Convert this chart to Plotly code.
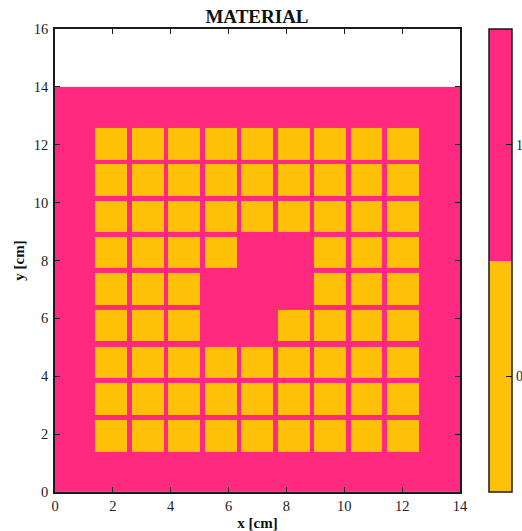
import plotly.graph_objects as go

title = "MATERIAL"
x_label = "x [cm]"
y_label = "y [cm]"
x_ticks = [0, 2, 4, 6, 8, 10, 12, 14]
y_ticks = [0, 2, 4, 6, 8, 10, 12, 14, 16]
material_ticks = [0, 1]

# Cell boundaries along each axis (cm): moderator, then pin / gap bands, then moderator
x_edges = [0, 1.38, 2.50, 2.66, 3.76, 3.92, 5.02, 5.18, 6.28, 6.44, 7.54,
           7.70, 8.80, 8.96, 10.06, 10.22, 11.32, 11.48, 12.58, 14]
y_edges = [0, 1.40, 2.48, 2.65, 3.76, 3.93, 5.00, 5.21, 6.29, 6.46, 7.57,
           7.74, 8.81, 8.99, 10.06, 10.23, 11.34, 11.48, 12.59, 14]

# Pin lattice material, top row first: 0 = yellow material, 1 = pink material
pin_map = [
    [0, 0, 0, 0, 0, 0, 0, 0, 0],
    [0, 0, 0, 0, 0, 0, 0, 0, 0],
    [0, 0, 0, 0, 0, 0, 0, 0, 0],
    [0, 0, 0, 0, 1, 1, 0, 0, 0],
    [0, 0, 0, 1, 1, 1, 0, 0, 0],
    [0, 0, 0, 1, 1, 0, 0, 0, 0],
    [0, 0, 0, 0, 0, 0, 0, 0, 0],
    [0, 0, 0, 0, 0, 0, 0, 0, 0],
    [0, 0, 0, 0, 0, 0, 0, 0, 0],
]

PINK = "#FF2A7F"
YELLOW = "#FFC107"
INK = "#1a1a1a"

rows = pin_map[::-1]
z = []
for j in range(len(y_edges) - 1):
    line = []
    for i in range(len(x_edges) - 1):
        if i % 2 == 1 and j % 2 == 1:
            line.append(rows[j // 2][i // 2])
        else:
            line.append(1)
    z.append(line)

FONT = "Liberation Serif"

fig = go.Figure(
    go.Heatmap(
        x=x_edges,
        y=y_edges,
        z=z,
        zmin=-0.5,
        zmax=1.5,
        colorscale=[[0, YELLOW], [0.5, YELLOW], [0.5, PINK], [1, PINK]],
        hoverinfo="skip",
        colorbar=dict(
            x=1.0715,
            xanchor="left",
            y=0.5,
            yanchor="middle",
            len=1.0,
            lenmode="fraction",
            thickness=23,
            thicknessmode="pixels",
            xpad=0,
            ypad=0,
            outlinewidth=1.5,
            outlinecolor=INK,
            borderwidth=0,
            tickmode="array",
            tickvals=material_ticks,
            ticktext=[str(v) for v in material_ticks],
            ticks="inside",
            ticklen=6,
            tickwidth=1,
            tickcolor=INK,
            tickfont=dict(family=FONT, size=14, color="#222"),
        ),
    )
)

axis_common = dict(
    showgrid=False,
    zeroline=False,
    showline=True,
    linewidth=1.5,
    linecolor=INK,
    mirror="ticks",
    ticks="inside",
    ticklen=5,
    tickwidth=1,
    tickcolor=INK,
    layer="above traces",
    tickfont=dict(family=FONT, size=14.5, color="#222"),
)

fig.update_layout(
    width=522,
    height=531,
    margin=dict(l=54.5, r=62, t=29, b=39, autoexpand=False),
    paper_bgcolor="white",
    plot_bgcolor="white",
    title=dict(
        text="<b>" + title + "</b>",
        x=257 / 522,
        xanchor="center",
        y=1 - 23 / 531,
        yanchor="bottom",
        font=dict(family=FONT, size=19, color="#111"),
    ),
    xaxis=dict(
        range=[0, 14],
        tickmode="array",
        tickvals=x_ticks,
        title=dict(text="<b>" + x_label + "</b>", standoff=6,
                   font=dict(family=FONT, size=15, color="#111")),
        **axis_common,
    ),
    yaxis=dict(
        range=[0, 16],
        tickmode="array",
        tickvals=y_ticks,
        ticklabelstandoff=2,
        title=dict(text="<b>" + y_label + "</b>", standoff=6,
                   font=dict(family=FONT, size=15, color="#111")),
        **axis_common,
    ),
)

fig.write_html(
    "out.html",
    config=dict(displayModeBar=False),
    post_script="document.body.style.margin='0';document.body.style.overflow='hidden';",
)
